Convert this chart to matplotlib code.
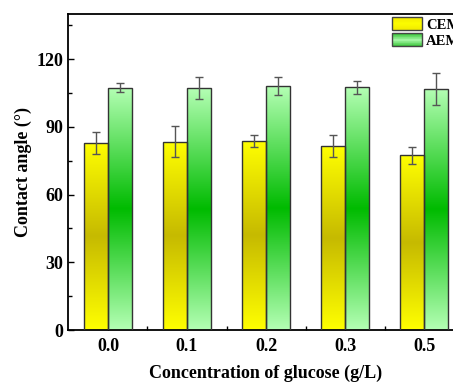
import numpy as np
import matplotlib.pyplot as plt
from matplotlib.colors import LinearSegmentedColormap
from matplotlib.patches import Rectangle
from matplotlib.legend_handler import HandlerBase
from matplotlib.ticker import MultipleLocator, FixedLocator

plt.rcParams['font.family'] = ['Liberation Serif', 'DejaVu Serif']
plt.rcParams['font.weight'] = 'bold'

concentrations = ["0.0", "0.1", "0.2", "0.3", "0.5"]
cem = [82.9, 83.4, 83.9, 81.5, 77.4]
cem_err = [5.0, 6.8, 2.6, 5.0, 3.8]
aem = [107.3, 107.2, 107.9, 107.5, 106.9]
aem_err = [2.0, 5.0, 4.0, 3.0, 7.0]

cem_cmap = LinearSegmentedColormap.from_list("cem", ["#ffff00", "#c6ba00", "#ffff00"])
aem_cmap = LinearSegmentedColormap.from_list("aem", ["#b4ffb4", "#00bb00", "#b4ffb4"])


class GradientHandler(HandlerBase):
    # legend key drawn as horizontal strips so it shows the same gradient
    def __init__(self, cmap):
        super().__init__()
        self.cmap = cmap

    def create_artists(self, legend, orig_handle, xdescent, ydescent, width, height, fontsize, trans):
        n = 20
        arts = []
        for i in range(n):
            r = Rectangle((-xdescent, -ydescent + i * height / n), width, height / n,
                          facecolor=self.cmap((i + 0.5) / n), edgecolor="none", transform=trans)
            arts.append(r)
        arts.append(Rectangle((-xdescent, -ydescent), width, height, facecolor="none",
                              edgecolor="#444444", linewidth=1.0, transform=trans))
        return arts


fig = plt.figure(figsize=(4.53, 3.84), dpi=100)
ax = fig.add_axes([0.1512, 0.1406, 0.872, 0.8229])

x = np.arange(len(concentrations))
w = 0.3
grad = np.linspace(0, 1, 256).reshape(-1, 1)


def gradient_bars(xpos, vals, errs, cmap):
    bars = ax.bar(xpos, vals, w, facecolor="none", edgecolor="#333333", linewidth=1.0, zorder=3)
    for b in bars:
        x0, y0 = b.get_x(), b.get_y()
        im = ax.imshow(grad, cmap=cmap, aspect="auto", origin="lower",
                       extent=[x0, x0 + b.get_width(), y0, y0 + b.get_height()], zorder=2)
        im.set_clip_path(b)
    ax.errorbar(xpos, vals, yerr=errs, fmt="none", ecolor="#555555", elinewidth=1.0,
                capsize=3, capthick=1.0, zorder=4)
    return bars


b1 = gradient_bars(x - w / 2, cem, cem_err, cem_cmap)
b2 = gradient_bars(x + w / 2, aem, aem_err, aem_cmap)

ax.set_xlim(-0.5, len(x) - 0.5)
ax.set_ylim(0, 140)
ax.set_xticks(x)
ax.set_xticklabels(concentrations)
ax.xaxis.set_minor_locator(FixedLocator(x[:-1] + 0.5))
ax.set_yticks([0, 30, 60, 90, 120])
ax.yaxis.set_minor_locator(MultipleLocator(15))
ax.tick_params(which="both", direction="in", top=False, right=False, labelsize=13, width=1.0)
ax.tick_params(axis="y", which="major", length=4, pad=4)
ax.tick_params(axis="x", which="major", length=4, pad=6)
ax.tick_params(which="minor", length=3)
for s in ax.spines.values():
    s.set_linewidth(1.3)

ax.set_xlabel("Concentration of glucose (g/L)", fontsize=13, fontweight="bold", labelpad=7)
ax.set_ylabel("Contact angle (°)", fontsize=13, fontweight="bold", labelpad=3)

ax.legend([b1, b2], ["CEM", "AEM"],
          handler_map={b1: GradientHandler(LinearSegmentedColormap.from_list("c", ["#f0e800", "#fcfc00", "#f0e800"])),
                       b2: GradientHandler(LinearSegmentedColormap.from_list("a", ["#2fc02f", "#a8f8a8", "#2fc02f"]))},
          loc="upper left", bbox_to_anchor=(0.818, 0.99), frameon=False,
          prop={"weight": "bold", "size": 10.5}, handlelength=2.05, handleheight=1.0,
          handletextpad=0.3, labelspacing=0.12, borderaxespad=0.0, borderpad=0.0)

fig.savefig("out.png", dpi=100)
